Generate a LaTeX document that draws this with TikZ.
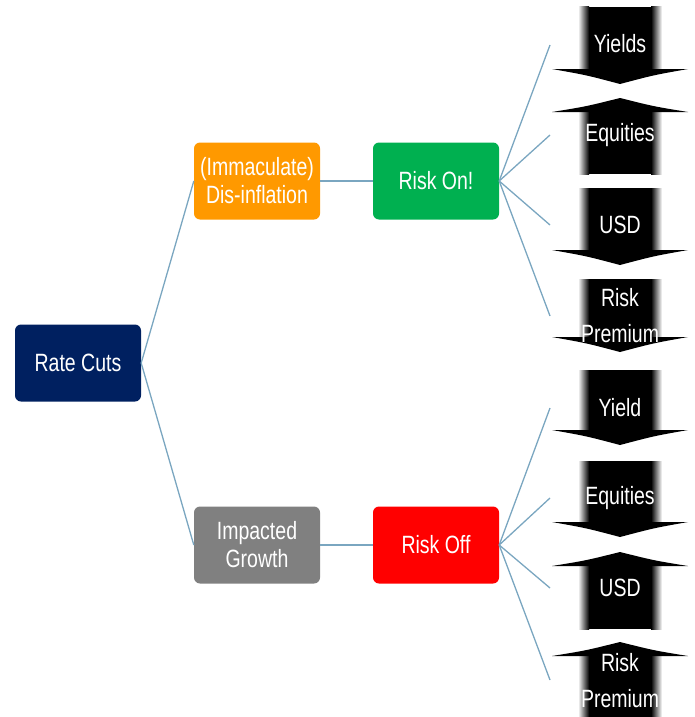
\documentclass[tikz,border=0pt]{standalone}
\usepackage{fontspec}
\setmainfont{Liberation Sans}[FakeStretch=0.78]
\usetikzlibrary{shadings}
\definecolor{navyc}{RGB}{0,32,96}
\definecolor{orangec}{RGB}{255,153,0}
\definecolor{greenc}{RGB}{0,176,80}
\definecolor{grayc}{RGB}{128,128,128}
\definecolor{redc}{RGB}{255,0,0}
\definecolor{linec}{RGB}{122,166,192}
\newcommand{\DnArr}[3]{% shaft top, head base, tip
  \fill[black] (580,#1) rectangle (659,#2+1);
  \shade[left color=white,right color=black] (578,#1) rectangle (589,#2+1);
  \shade[left color=black,right color=white] (651,#1) rectangle (662,#2+1);
  \fill[black] (552,#2) -- (688,#2) .. controls (654,{(#2+#3)/2-1.5}) .. (620,#3) .. controls (586,{(#2+#3)/2-1.5}) .. (552,#2) -- cycle;
}
\newcommand{\UpArr}[3]{% tip, head base, shaft bottom
  \fill[black] (580,#2-1) rectangle (659,#3);
  \shade[left color=white,right color=black] (578,#2-1) rectangle (589,#3);
  \shade[left color=black,right color=white] (651,#2-1) rectangle (662,#3);
  \fill[black] (552,#2) -- (688,#2) .. controls (654,{(#1+#2)/2+1.5}) .. (620,#1) .. controls (586,{(#1+#2)/2+1.5}) .. (552,#2) -- cycle;
}
\begin{document}
\begin{tikzpicture}[x=1pt,y=-1pt,
  box/.style={rounded corners=6pt,minimum width=126pt,minimum height=77pt,inner sep=0pt,
    text=white,align=center,font=\fontsize{25}{28}\selectfont},
  albl/.style={text=white,align=center,inner sep=0pt,font=\fontsize{25}{36}\selectfont},
  conn/.style={draw=linec,line width=1.3pt}]
\useasboundingbox (0,0) rectangle (695,717);
% block arrows
\DnArr{7}{69}{84}
\UpArr{98}{112}{174}
\DnArr{188}{250}{265}
\DnArr{279}{337}{352}
\DnArr{370}{430}{445}
\DnArr{461}{522}{537}
\UpArr{552}{566}{629}
\UpArr{642}{656}{717}
% boxes
\node[box,fill=navyc] (rate) at (78,363) {Rate Cuts};
\node[box,fill=orangec] (disinf) at (257,181) {(Immaculate)\\Dis-inflation};
\node[box,fill=greenc] (riskon) at (436,181) {Risk On!};
\node[box,fill=grayc] (impact) at (257,545) {Impacted\\Growth};
\node[box,fill=redc] (riskoff) at (436,545) {Risk Off};
% arrow labels
\node[albl] (l1) at (620,44) {Yields};
\node[albl] (l2) at (620,135) {Equities};
\node[albl] (l3) at (620,225) {USD};
\node[albl] (l4) at (620,316) {Risk\\Premium};
\node[albl] (l5) at (620,408) {Yield};
\node[albl] (l6) at (620,498) {Equities};
\node[albl] (l7) at (620,588) {USD};
\node[albl] (l8) at (620,681) {Risk\\Premium};
% connector ends
\coordinate (c1) at (550,45);
\coordinate (c2) at (550,135);
\coordinate (c3) at (550,225);
\coordinate (c4) at (550,316);
\coordinate (c5) at (550,408);
\coordinate (c6) at (550,498);
\coordinate (c7) at (550,588);
\coordinate (c8) at (550,680);
% connectors
\draw[conn] (rate.east) -- (disinf.west);
\draw[conn] (rate.east) -- (impact.west);
\draw[conn] (disinf.east) -- (riskon.west);
\draw[conn] (impact.east) -- (riskoff.west);
\foreach \c in {c1,c2,c3,c4} \draw[conn] (riskon.east) -- (\c);
\foreach \c in {c5,c6,c7,c8} \draw[conn] (riskoff.east) -- (\c);
\end{tikzpicture}
\end{document}
